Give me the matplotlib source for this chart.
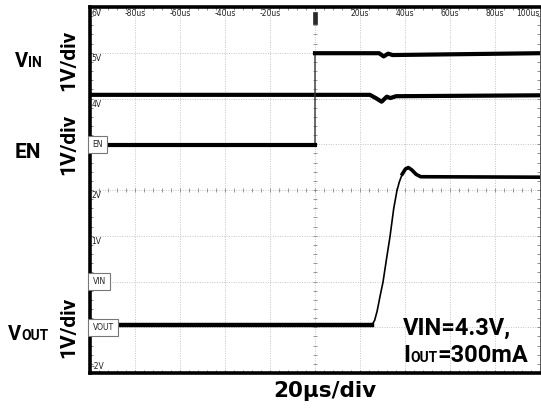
import numpy as np
import matplotlib
matplotlib.use("Agg")
import matplotlib.pyplot as plt
from matplotlib.ticker import MultipleLocator
from matplotlib.patches import Rectangle

# time axis in us, scope screen in volts (grid labels)
vin_t = [-100, 24.4, 27.0, 29.6, 31.9, 33.5, 36.0, 100]
vin_v = [4.08, 4.08, 4.01, 3.93, 4.04, 4.01, 4.05, 4.07]

en_t = [-100, 0, 0, 28.5, 30.5, 32.5, 34.5, 100]
en_v = [2.98, 2.98, 4.99, 4.99, 4.92, 4.98, 4.95, 4.99]

vout_t = [-100, 25.3, 26.5, 27.6, 29.0, 30.2, 31.8, 33.3, 35.0, 36.4,
          37.5, 38.8, 40.2, 41.5, 43.0, 45.0, 47.0, 100]
vout_v = [-0.95, -0.95, -0.85, -0.65, -0.3, -0.02, 0.5, 0.97, 1.6, 1.98,
          2.18, 2.35, 2.46, 2.49, 2.44, 2.34, 2.29, 2.28]

time_labels = ["-80us", "-60us", "-40us", "-20us", "20us", "40us", "60us", "80us"]
time_pos = [-80, -60, -40, -20, 20, 40, 60, 80]
volt_labels = ["5V", "4V", "2V", "1V"]
volt_pos = [5, 4, 2, 1]
markers = ["EN", "VIN", "VOUT"]
marker_pos = [3, 0, -1]

W, H = 541, 409
fig = plt.figure(figsize=(W / 100, H / 100), dpi=100)
ax = fig.add_axes([90 / W, 1 - 373 / H, 450 / W, 366 / H])
ax.set_xlim(-100, 100)
ax.set_ylim(-2, 6)

# scope grid
ax.set_xticks(np.arange(-100, 101, 20))
ax.set_yticks(np.arange(-2, 7, 1))
ax.xaxis.set_minor_locator(MultipleLocator(4))
ax.yaxis.set_minor_locator(MultipleLocator(0.2))
ax.grid(True, which="major", color="#c4c4c4", linestyle=(0, (1, 1.5)), linewidth=0.7)
ax.tick_params(which="both", direction="in", length=2.2, width=0.6, color="#777777",
               top=True, right=True, labelleft=False, labelbottom=False)
for s in ["left", "top", "bottom"]:
    ax.spines[s].set_linewidth(2.6)
ax.spines["right"].set_linewidth(0.7)
ax.spines["right"].set_color("#555555")

# center cross ticks
cx = np.arange(-100, 101, 4)
ax.plot(cx, np.full(len(cx), 2.0), ls="none", marker="|", ms=3.5, mew=0.6, color="#888888")
cy = np.arange(-2, 6.01, 0.2)
ax.plot(np.zeros(len(cy)), cy, ls="none", marker="_", ms=3.5, mew=0.6, color="#888888")

# traces
ax.plot(vin_t, vin_v, color="black", lw=3.0, solid_joinstyle="round")
ax.plot(en_t, en_v, color="#333333", lw=1.0)
ax.plot(en_t[:2], en_v[:2], color="black", lw=3.0)
ax.plot(en_t[2:], en_v[2:], color="black", lw=3.0)
ax.plot(vout_t, vout_v, color="black", lw=1.2)
ax.plot(vout_t[:2], vout_v[:2], color="black", lw=3.2)
ax.plot(vout_t[11:], vout_v[11:], color="black", lw=2.6)

# trigger marker
ax.add_patch(Rectangle((-1.0, 5.62), 2.0, 0.26, facecolor="#2a2a2a", edgecolor="#2a2a2a",
                       lw=0.5, zorder=5))

# scope texts
small = dict(family=["Liberation Sans Narrow", "DejaVu Sans"], fontsize=5.5, color="#222222")
for lab, t in zip(time_labels, time_pos):
    ax.text(t, 5.96, lab, ha="center", va="top", **small)
ax.text(100, 5.96, "100us", ha="right", va="top", **small)
ax.text(-99.3, 5.96, "6V", ha="left", va="top", **small)
for lab, v in zip(volt_labels, volt_pos):
    ax.text(-99.3, v - 0.03, lab, ha="left", va="top", **small)
ax.text(-99.3, -1.95, "-2V", ha="left", va="bottom", **small)
for lab, v in zip(markers, marker_pos):
    ax.text(-98.8, v, lab, ha="left", va="center",
            bbox=dict(boxstyle="square,pad=0.55", fc="white", ec="#777777", lw=0.8), **small)

# outer labels
bold = dict(family=["Roboto", "DejaVu Sans"], fontweight="bold", color="black")
renderer = fig.canvas.get_renderer()


def draw_parts(x_px, base_px, parts):
    x = x_px
    for s, size in parts:
        t = fig.text(x / W, 1 - base_px / H, s, fontsize=size, ha="left", va="baseline", **bold)
        x += t.get_window_extent(renderer).width


draw_parts(15, 67, [("V", 14.5), ("IN", 10)])
draw_parts(15, 158, [("EN", 15)])
draw_parts(8, 340, [("V", 14.5), ("OUT", 10)])
for yc in [60, 144, 327]:
    fig.text(69 / W, 1 - yc / H, "1V/div", rotation=90, ha="center", va="center", fontsize=15, **bold)

draw_parts(403, 335, [("VIN=4.3V,", 17)])
draw_parts(403, 362, [("I", 17), ("OUT", 10), ("=300mA", 17)])
fig.text(273 / W, 1 - 397 / H, "20µs/div", ha="left", va="baseline", fontsize=15.5,
         family="DejaVu Sans", fontweight="bold")

fig.savefig("out.png", dpi=100)
